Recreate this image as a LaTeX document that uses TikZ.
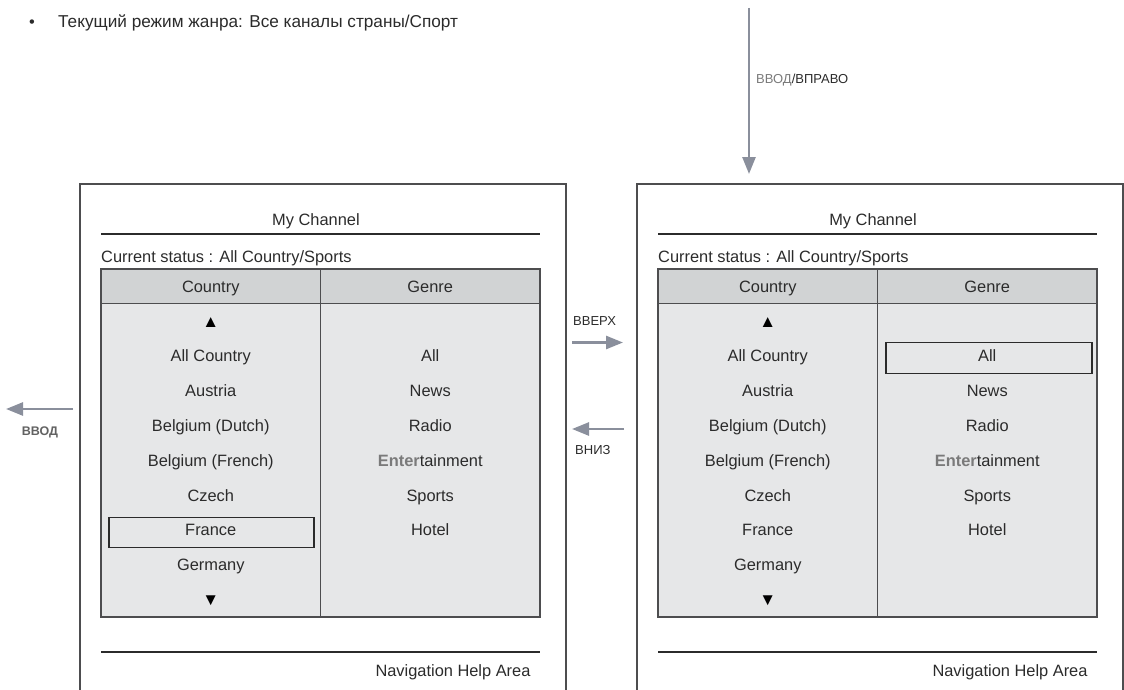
\documentclass[tikz,border=0pt]{standalone}
\usepackage{fontspec}
\setmainfont{Liberation Sans}
\usepackage{tikz}
\usetikzlibrary{arrows.meta}
\usetikzlibrary{calc,matrix}

\definecolor{headgray}{HTML}{D1D3D4}
\definecolor{bodygray}{HTML}{E6E7E8}
\definecolor{navgray}{HTML}{8A8F9C}
\definecolor{inkgray}{HTML}{2B2B2B}
\definecolor{rulegray}{HTML}{4D4D4F}
\definecolor{labelgray}{HTML}{7A7A7A}

\begin{document}
\begin{tikzpicture}[x=1pt,y=-1pt,
	txt/.style={font=\fontsize{16.4}{18}\selectfont,text=inkgray,inner sep=0pt},
	small/.style={font=\fontsize{13}{14}\selectfont,text=inkgray,inner sep=0pt},
	cell/.style={minimum width=219.5pt,minimum height=34.8pt,inner sep=0pt,outer sep=0pt,
		fill=bodygray,font=\fontsize{16.4}{18}\selectfont,text=inkgray,text height=14pt,text depth=2.3pt},
	tri/.style={font=\fontsize{17}{17}\selectfont,text=black},
	frame/.style={draw=rulegray,line width=1.2pt},
	tablerule/.style={draw=rulegray,line width=1.3pt},
	thickrule/.style={draw=inkgray,line width=2.6pt},
	hilite/.style={draw=inkgray,line width=1.3pt},
	navarrow/.style={draw=navgray,line width=2.6pt,-{Triangle[length=17pt,width=13pt]}}]
\useasboundingbox (0,0) rectangle (1124,690);

\node[txt,anchor=base] (dot) at (32,27.5) {•};
\node[txt,anchor=base west,font=\fontsize{17.2}{19}\selectfont] (mode) at (58,27.5) {Текущий режим жанра: Все каналы страны/Спорт};

\foreach \p/\dx in {L/0,R/557} {
\draw[frame] (80+\dx,690) |- (566+\dx,184) -- (566+\dx,690);
\node[txt,anchor=base] (title\p) at (316+\dx,225) {My Channel};
\node[txt,anchor=base west] (status\p) at (101+\dx,262) {Current status : All Country/Sports};
\matrix [%
matrix of nodes,nodes in empty cells,ampersand replacement=\&,inner sep=0pt,outer sep=0pt,
column sep=0pt,row sep=0pt,anchor=north west,nodes={cell},row 1/.style={nodes={fill=headgray}} ] (lst\p) at (101+\dx,269) {%
	Country \& Genre \\
	|[tri]| ▲ \& \\
	All Country \& All \\
	Austria \& News \\
	Belgium (Dutch) \& Radio \\
	Belgium (French) \& {\bfseries\color{labelgray}Enter}tainment \\
	Czech \& Sports \\
	France \& Hotel \\
	Germany \& \\
	|[tri]| ▼ \& \\
};
\draw[tablerule] (lst\p.north west) rectangle (lst\p.south east);
\draw[tablerule] (lst\p-1-1.south west) -- (lst\p-1-2.south east)
	(lst\p-1-1.north east) -- (lst\p-10-1.south east);
\draw[thickrule] ($(lst\p.north west)+(0,-35)$) -- ($(lst\p.north east)+(0,-35)$)
	($(lst\p.south west)+(0,35)$) -- ($(lst\p.south east)+(0,35)$);
\node[txt,anchor=base] (help\p) at (453+\dx,676) {Navigation Help Area};
}

% selected entries
\draw[hilite] ($(lstL-8-1.south west)+(8,0.4)$) rectangle ($(lstL-8-1.north east)+(-6.5,5.2)$);
\draw[hilite] ($(lstR-3-2.south west)+(8.5,0.4)$) rectangle ($(lstR-3-2.north east)+(-5,4.2)$);

% key arrows
\coordinate (inTop) at (749,8);
\coordinate (inEnd) at (749,174);
\coordinate (upFrom) at (572,342.5);
\coordinate (upTo) at (623,342.5);
\coordinate (downFrom) at (624,429);
\coordinate (downTo) at (572,429);
\coordinate (backFrom) at (73,409);
\coordinate (backTo) at (6,409);
\path (inTop) edge[navarrow] (inEnd)
(upFrom)   edge[navarrow] (upTo)
(downFrom) edge[navarrow] (downTo)
(backFrom) edge[navarrow] (backTo);

\node[small,anchor=base west] (inLbl) at (756,83.3) {\textcolor{labelgray}{ВВОД}/ВПРАВО};
\node[small,anchor=base west] (upLbl) at (573,325.7) {ВВЕРХ};
\node[small,anchor=base west] (downLbl) at (575,454.6) {ВНИЗ};
\node[small,anchor=base west,font=\fontsize{12.5}{14}\selectfont\bfseries,text=labelgray!80!black] (backLbl) at (21.7,435) {ВВОД};
\end{tikzpicture}
\end{document}
